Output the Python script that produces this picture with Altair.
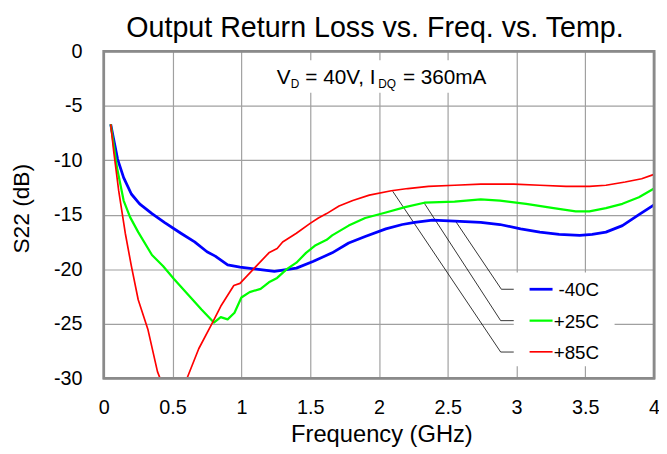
import altair as alt
import pandas as pd

# ---------------- data ----------------
series_names = ["-40C", "+25C", "+85C"]
series_colors = ["#0000ff", "#00ff00", "#ff0000"]
series_widths = [2.8, 1.7, 1.8]

freq_m40 = [0.05, 0.10, 0.144, 0.20, 0.26, 0.35, 0.44, 0.56, 0.66, 0.75, 0.81, 0.90, 0.99,
            1.11, 1.24, 1.40, 1.52, 1.66, 1.78, 1.90, 2.05, 2.17, 2.26, 2.39, 2.55, 2.74,
            2.88, 3.03, 3.17, 3.31, 3.46, 3.55, 3.65, 3.77, 3.89, 4.00]
s22_m40 = [-6.7, -9.9, -11.6, -13.1, -14.0, -14.9, -15.7, -16.7, -17.5, -18.4, -18.8, -19.6, -19.8,
           -20.0, -20.2, -19.9, -19.3, -18.5, -17.6, -17.0, -16.3, -15.9, -15.7, -15.5, -15.6, -15.7,
           -15.9, -16.3, -16.6, -16.8, -16.9, -16.8, -16.6, -16.0, -15.0, -14.1]

freq_p25 = [0.05, 0.096, 0.144, 0.19, 0.25, 0.35, 0.43, 0.51, 0.61, 0.71, 0.80, 0.85, 0.90, 0.95,
            1.00, 1.06, 1.14, 1.20, 1.26, 1.33, 1.40, 1.47, 1.54, 1.62, 1.66, 1.78, 1.90, 2.05,
            2.19, 2.33, 2.55, 2.74, 2.88, 3.07, 3.27, 3.43, 3.53, 3.65, 3.77, 3.89, 4.00]
s22_p25 = [-6.7, -10.7, -13.7, -15.2, -16.6, -18.7, -19.7, -20.9, -22.3, -23.7, -24.9, -24.4, -24.6, -24.0,
           -22.6, -22.1, -21.8, -21.2, -20.8, -20.0, -19.4, -18.5, -17.8, -17.3, -16.9, -16.0, -15.3, -14.8,
           -14.3, -13.9, -13.8, -13.6, -13.7, -14.0, -14.4, -14.7, -14.7, -14.4, -14.0, -13.4, -12.6]

freq_p85 = [0.05, 0.072, 0.108, 0.156, 0.20, 0.25, 0.32, 0.39, 0.50, 0.605, 0.69, 0.79, 0.85, 0.945,
            0.99, 1.05, 1.11, 1.20, 1.26, 1.30, 1.40, 1.50, 1.56, 1.62, 1.71, 1.81, 1.93, 2.09,
            2.21, 2.36, 2.55, 2.74, 2.98, 3.17, 3.36, 3.53, 3.65, 3.79, 3.91, 4.00]
s22_p85 = [-6.7, -9.2, -12.8, -16.7, -19.7, -22.8, -25.5, -29.4, -33.0, -30.0, -27.3, -24.9, -23.4, -21.5,
           -21.3, -20.5, -19.7, -18.5, -18.1, -17.5, -16.7, -15.8, -15.3, -14.9, -14.2, -13.7, -13.2, -12.8,
           -12.6, -12.4, -12.3, -12.2, -12.2, -12.3, -12.4, -12.4, -12.3, -12.0, -11.7, -11.3]

x_ticks = [0, 0.5, 1, 1.5, 2, 2.5, 3, 3.5, 4]
y_ticks = [-30, -25, -20, -15, -10, -5, 0]

# leader lines (curve point -> elbow -> legend entry), in data units
leader_series = ["-40C", "-40C", "-40C", "+25C", "+25C", "+25C", "+85C", "+85C", "+85C"]
leader_freq = [2.56, 2.89, 2.98, 2.33, 2.885, 2.98, 2.10, 2.885, 2.98]
leader_s22 = [-15.65, -21.84, -21.84, -13.95, -24.72, -24.72, -12.85, -27.6, -27.6]

# legend placement (data units)
legend_y = [-21.84, -24.72, -27.58]
legend_sym_x = [3.095, 3.262]
legend_label_x = 3.60
legend_box = [2.98, 3.713, -20.3, -28.9]

# annotation with subscripts
ann_text = ["V", "D", "= 40V, I", "DQ", "= 360mA"]
ann_x = [1.257, 1.359, 1.465, 1.995, 2.174]
ann_y = [-3.05, -3.42, -3.05, -3.42, -3.05]
ann_size = [21, 12, 21, 12, 21]
ann_box = [1.22, 2.80, -0.82, -3.81]

TITLE = "Output Return Loss vs. Freq. vs. Temp."
FONT = "Liberation Sans"
W, H = 557, 331

# ---------------- tables ----------------
rows = []
for name, fs, vs in [("-40C", freq_m40, s22_m40), ("+25C", freq_p25, s22_p25), ("+85C", freq_p85, s22_p85)]:
    for i, (f, v) in enumerate(zip(fs, vs)):
        rows.append({"series": name, "freq": f, "s22": v, "order": i})
curves = pd.DataFrame(rows)

leaders = pd.DataFrame({"series": leader_series, "freq": leader_freq, "s22": leader_s22,
                        "order": list(range(len(leader_freq)))})
legend_df = pd.DataFrame({"series": series_names, "x1": [legend_sym_x[0]] * 3,
                          "x2": [legend_sym_x[1]] * 3, "y": legend_y,
                          "lx": [legend_label_x] * 3})
boxes = pd.DataFrame({"x1": [legend_box[0], ann_box[0]], "x2": [legend_box[1], ann_box[1]],
                      "y1": [legend_box[2], ann_box[2]], "y2": [legend_box[3], ann_box[3]]})
ann = pd.DataFrame({"text": ann_text, "x": ann_x, "y": ann_y, "fs": ann_size})
title_df = pd.DataFrame({"text": [TITLE]})

# ---------------- encodings ----------------
xscale = alt.Scale(domain=[0, 4], nice=False, zero=False)
yscale = alt.Scale(domain=[-30, 0], nice=False, zero=False)

xaxis = alt.Axis(values=x_ticks, labelExpr="'' + datum.value", grid=True, gridColor="#a0a0a0",
                 gridWidth=1.2, ticks=False, tickSize=0, domain=False, labelFontSize=20,
                 labelFont=FONT, labelColor="black", labelPadding=20, labelFlush=False,
                 labelOverlap=False, labelBound=False, titleFontSize=24, titleFont=FONT,
                 titleFontWeight="normal", titleColor="black", titleX=281, titleY=64,
                 titleBaseline="alphabetic", titleAlign="center")
yaxis = alt.Axis(values=y_ticks, labelExpr="'' + datum.value", grid=True, gridColor="#a0a0a0",
                 gridWidth=1.2, ticks=False, tickSize=0, domain=False, labelFontSize=20,
                 labelFont=FONT, labelColor="black", labelPadding=22, labelFlush=False,
                 labelOverlap=False, titleFontSize=23, titleFont=FONT, titleFontWeight="normal",
                 titleColor="black", titleX=-76, titleY=159, titleAngle=-90,
                 titleBaseline="alphabetic", titleAlign="center")


def X(field):
    return alt.X(f"{field}:Q", scale=xscale, axis=xaxis, title="Frequency (GHz)")


def Y(field):
    return alt.Y(f"{field}:Q", scale=yscale, axis=yaxis, title="S22 (dB)")


color = alt.Color("series:N", scale=alt.Scale(domain=series_names, range=series_colors), legend=None)
swidth = alt.StrokeWidth("series:N", scale=alt.Scale(domain=series_names, range=series_widths), legend=None)

box_layer = alt.Chart(boxes).mark_rect(color="white").encode(
    x=X("x1"), x2="x2", y=Y("y1"), y2="y2")

leader_layer = alt.Chart(leaders).mark_line(color="black", strokeWidth=0.8).encode(
    x=X("freq"), y=Y("s22"), detail="series:N", order="order:Q")

curve_layer = alt.Chart(curves).mark_line(clip=True, strokeJoin="round").encode(
    x=X("freq"), y=Y("s22"), color=color, strokeWidth=swidth, detail="series:N", order="order:Q")

legend_sym = alt.Chart(legend_df).mark_rule().encode(
    x=X("x1"), x2="x2", y=Y("y"), color=color, strokeWidth=swidth)

legend_txt = alt.Chart(legend_df).mark_text(align="right", baseline="middle", font=FONT,
                                            fontSize=19, color="black", dy=1).encode(
    x=X("lx"), y=Y("y"), text="series:N")

ann_layer = alt.Chart(ann).mark_text(align="left", baseline="alphabetic", font=FONT,
                                     color="black").encode(
    x=X("x"), y=Y("y"), text="text:N", size=alt.Size("fs:Q", scale=None))

title_layer = alt.Chart(title_df).mark_text(align="center", baseline="alphabetic", font=FONT,
                                            fontSize=29, color="black").encode(
    x=alt.value(W / 2 - 4), y=alt.value(-14.5), text="text:N")

frame = alt.Chart(boxes).mark_rect(fillOpacity=0, stroke="#8a8a8a", strokeWidth=2.5).encode(
    x=alt.value(0), x2=alt.value(W), y=alt.value(0), y2=alt.value(H))

chart = alt.layer(box_layer, leader_layer, curve_layer, legend_sym, legend_txt, ann_layer,
                  title_layer, frame).properties(
    width=W, height=H,
    autosize=alt.AutoSizeParams(type="none"),
    padding={"left": 97, "top": 41, "right": 5, "bottom": 74},
    background="white",
).configure_view(stroke="transparent")

chart.save("out.html", embed_options={"renderer": "svg", "actions": False})
